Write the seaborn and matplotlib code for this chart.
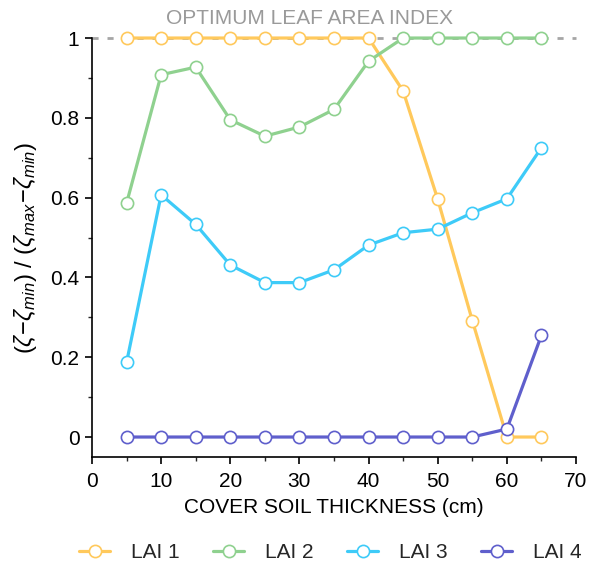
import numpy as np
import pandas as pd
import matplotlib
matplotlib.use("Agg")
import matplotlib.pyplot as plt
from matplotlib.lines import Line2D
from matplotlib.ticker import MultipleLocator
import seaborn as sns

# Cover soil thickness (cm)
thickness = [5, 10, 15, 20, 25, 30, 35, 40, 45, 50, 55, 60, 65]

# Normalised response for each leaf area index scenario
lai1 = [1.0, 1.0, 1.0, 1.0, 1.0, 1.0, 1.0, 1.0, 0.867, 0.596, 0.292, 0.0, 0.0]
lai2 = [0.586, 0.908, 0.927, 0.795, 0.754, 0.777, 0.821, 0.942, 1.0, 1.0, 1.0, 1.0, 1.0]
lai3 = [0.187, 0.607, 0.533, 0.431, 0.387, 0.387, 0.419, 0.481, 0.512, 0.521, 0.562, 0.597, 0.725]
lai4 = [0.0, 0.0, 0.0, 0.0, 0.0, 0.0, 0.0, 0.0, 0.0, 0.0, 0.0, 0.020, 0.255]

series_names = ["LAI 1", "LAI 2", "LAI 3", "LAI 4"]
series_values = [lai1, lai2, lai3, lai4]
colors = ["#FFC95C", "#8FD18F", "#3ECBF8", "#5F5FCC"]

x_ticks = [0, 10, 20, 30, 40, 50, 60, 70]
y_ticks = [0, 0.2, 0.4, 0.6, 0.8, 1]
y_tick_labels = ["0", "0.2", "0.4", "0.6", "0.8", "1"]

df = pd.DataFrame({
    "thickness": thickness * len(series_names),
    "value": sum(series_values, []),
    "series": np.repeat(series_names, len(thickness)),
})

sns.set_style("ticks")
plt.rcParams["font.family"] = ["Liberation Sans", "DejaVu Sans"]
plt.rcParams["mathtext.fontset"] = "custom"
plt.rcParams["mathtext.rm"] = "Liberation Sans"
plt.rcParams["mathtext.it"] = "Liberation Sans:italic"

FS = 15

fig = plt.figure(figsize=(5.92, 5.65), dpi=100)
ax = fig.add_axes([0.1554, 0.1912, 0.8176, 0.7415])

# Optimum reference line
ax.axhline(1.0, color="#A6A6A6", lw=2.0, ls=(0, (2.2, 3.2)), zorder=1, clip_on=False)
ax.text(31.5, 1.024, "OPTIMUM LEAF AREA INDEX", color="#9A9A9A", fontsize=FS,
        ha="center", va="bottom")

for name, col in zip(series_names, colors):
    sns.lineplot(
        data=df[df["series"] == name], x="thickness", y="value", ax=ax,
        color=col, lw=2.3, marker="o", markersize=8.8,
        markerfacecolor="white", markeredgecolor=col, markeredgewidth=1.2,
        clip_on=False, zorder=3, legend=False,
    )

ax.set_xlim(0, 70)
ax.set_ylim(-0.05, 1.0)
ax.set_xticks(x_ticks)
ax.set_yticks(y_ticks)
ax.set_yticklabels(y_tick_labels)
ax.xaxis.set_minor_locator(MultipleLocator(5))
ax.yaxis.set_minor_locator(MultipleLocator(0.1))
ax.tick_params(axis="both", which="major", direction="out", length=5, width=1.2,
               labelsize=FS, colors="black", pad=4)
ax.tick_params(axis="x", which="major", pad=6)
ax.tick_params(axis="both", which="minor", direction="out", length=3, width=1.0)
for side in ("left", "bottom"):
    ax.spines[side].set_linewidth(1.2)
    ax.spines[side].set_color("black")
sns.despine(ax=ax)
ax.spines["left"].set_bounds(-0.05, 1.0)

ax.set_xlabel("COVER SOIL THICKNESS (cm)", fontsize=FS, labelpad=5, color="black")
ax.set_ylabel(r"$(\zeta\!-\!\zeta_{min})\ /\ (\zeta_{max}\!-\!\zeta_{min})$",
              fontsize=17, labelpad=8, color="black")

handles = [
    Line2D([], [], color=c, lw=2.3, marker="o", markersize=8.8,
           markerfacecolor="white", markeredgecolor=c, markeredgewidth=1.2)
    for c in colors
]
fig.legend(handles, series_names, loc="center", bbox_to_anchor=(0.558, 0.0215),
           ncol=4, frameon=False, fontsize=FS, handlelength=1.5,
           columnspacing=1.6, handletextpad=1.0)

fig.savefig("out.png", dpi=100)
